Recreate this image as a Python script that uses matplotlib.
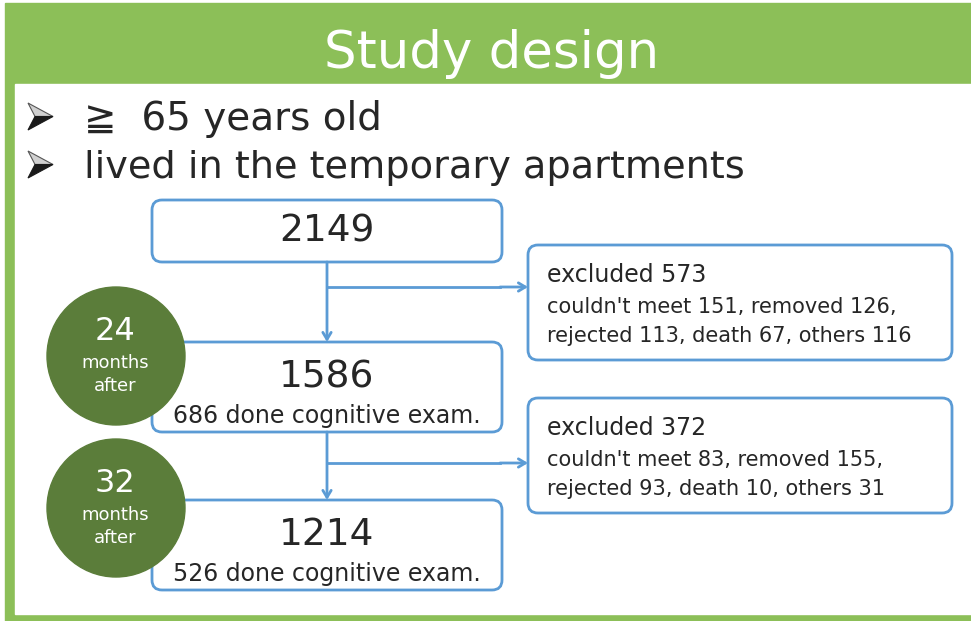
import matplotlib
matplotlib.use("Agg")
import matplotlib.pyplot as plt
from matplotlib.patches import FancyBboxPatch, Rectangle, Circle, Polygon

# ---- data ----
title = "Study design"
criteria = ["\u2267  65 years old", "lived in the temporary apartments"]
counts = [2149, 1586, 1214]
exam_done = [None, 686, 526]
months_after = [24, 32]
excluded = [573, 372]
excl_reasons = [
    ["couldn't meet 151, removed 126,", "rejected 113, death 67, others 116"],
    ["couldn't meet 83, removed 155,", "rejected 93, death 10, others 31"],
]

GREEN = "#8cbf58"
DARK = "#5b7d3a"
BLUE = "#5b9bd5"
INK = "#262626"
FONT = ["DejaVu Sans", "Noto Sans CJK JP"]
plt.rcParams["font.family"] = FONT

fig = plt.figure(figsize=(9.71, 6.21), dpi=100)
ax = fig.add_axes([0, 0, 1, 1])
ax.set_xlim(0, 971); ax.set_ylim(621, 0); ax.axis("off")

# frame
ax.add_patch(Rectangle((5, 3), 966, 618, color=GREEN, zorder=0))
ax.add_patch(Rectangle((15, 84), 956, 530, color="white", zorder=1))
ax.text(492, 68, title, color="white", fontsize=37, ha="center", va="baseline", zorder=2)

# bullets (3D arrowhead like the slide's wingdings bullet)
for k, line in enumerate(criteria):
    y = 130 + k * 48
    top, mid = y - 27, y - 13.5
    ax.add_patch(Polygon([(28, top), (53, mid), (35, mid)], closed=True,
                         fc="#d0d0d0", ec="#555555", lw=0.8, zorder=2))
    ax.add_patch(Polygon([(35, mid), (53, mid), (28, y)], closed=True,
                         fc="#1a1a1a", ec="#1a1a1a", lw=0.8, zorder=2))
    ax.text(84, y, line, fontsize=28 if k == 0 else 27.5, color=INK,
            ha="left", va="baseline", zorder=2)

def rbox(x0, y0, x1, y1):
    ax.add_patch(FancyBboxPatch((x0, y0), x1 - x0, y1 - y0,
                                boxstyle="round,pad=0,rounding_size=10",
                                fc="white", ec=BLUE, lw=2, zorder=3))

def arrow(x0, y0, x1, y1):
    ax.annotate("", xy=(x1, y1), xytext=(x0, y0), zorder=4,
                arrowprops=dict(arrowstyle="->,head_length=0.5,head_width=0.3",
                                color=BLUE, lw=2, shrinkA=0, shrinkB=0))

# main boxes
main_y = [(200, 262), (342, 432), (500, 590)]
cx = 327
for k, (y0, y1) in enumerate(main_y):
    rbox(152, y0, 502, y1)
    if exam_done[k] is None:
        ax.text(cx, (y0 + y1) / 2, str(counts[k]), fontsize=27, color=INK,
                ha="center", va="center", zorder=5)
    else:
        ax.text(cx, y0 + 35, str(counts[k]), fontsize=27, color=INK,
                ha="center", va="center", zorder=5)
        ax.text(cx, y1 - 16, f"{exam_done[k]} done cognitive exam.", fontsize=17,
                color=INK, ha="center", va="center", zorder=5)

# exclusion boxes and arrows
excl_y = [(245, 360), (398, 513)]
branch_y = [287, 463]
for k, (y0, y1) in enumerate(excl_y):
    arrow(cx, main_y[k][1], cx, main_y[k + 1][0])
    ax.plot([cx, 500], [branch_y[k], branch_y[k]], color=BLUE, lw=2, zorder=4)
    arrow(500, branch_y[k], 528, branch_y[k])
    rbox(528, y0, 952, y1)
    ax.text(547, y0 + 30, f"excluded {excluded[k]}", fontsize=17, color=INK,
            ha="left", va="center", zorder=5)
    for j, r in enumerate(excl_reasons[k]):
        ax.text(547, y0 + 62 + j * 29, r, fontsize=15, color=INK,
                ha="left", va="center", zorder=5)

# month circles
circ_y = [356, 508]
for k, m in enumerate(months_after):
    ax.add_patch(Circle((116, circ_y[k]), 69, color=DARK, zorder=6))
    ax.text(115, circ_y[k] - 25, str(m), fontsize=23, color="white",
            ha="center", va="center", zorder=7)
    ax.text(115, circ_y[k] + 7, "months", fontsize=13, color="white",
            ha="center", va="center", zorder=7)
    ax.text(115, circ_y[k] + 30, "after", fontsize=13, color="white",
            ha="center", va="center", zorder=7)

fig.savefig("out.png", dpi=100)
